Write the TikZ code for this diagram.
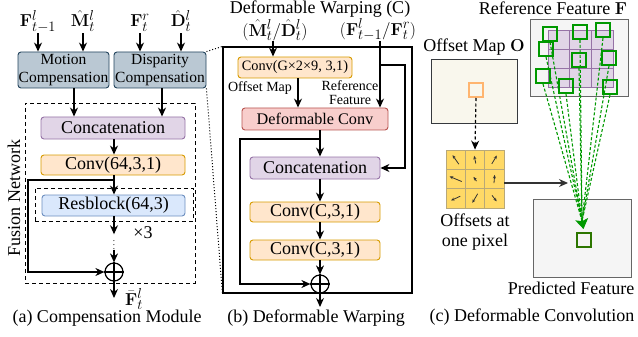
\documentclass[tikz,border=0pt]{standalone}
\usepackage[no-math]{fontspec}
\setmainfont{Liberation Serif}
\usetikzlibrary{arrows.meta,calc}

\definecolor{cbfill}{HTML}{BAC8D3}\definecolor{cbline}{HTML}{23445D}
\definecolor{lavfill}{HTML}{E1D5E7}\definecolor{lavline}{HTML}{9673A6}
\definecolor{orfill}{HTML}{FFE6CC}\definecolor{orline}{HTML}{D79B00}
\definecolor{blfill}{HTML}{DAE8FC}\definecolor{blline}{HTML}{6C8EBF}
\definecolor{rdfill}{HTML}{F8CECC}\definecolor{rdline}{HTML}{B85450}
\definecolor{gyfill}{HTML}{F5F5F5}\definecolor{gyline}{HTML}{666666}
\definecolor{crfill}{HTML}{F9F7ED}\definecolor{crline}{HTML}{36393D}
\definecolor{ylfill}{HTML}{FFD966}\definecolor{ylline}{HTML}{B8A878}
\definecolor{gsq}{HTML}{009900}\definecolor{gdk}{HTML}{2D7600}
\definecolor{osq}{HTML}{FFB570}

\begin{document}
\begin{tikzpicture}[x=1pt,y=-1pt,
  every node/.style={inner sep=0pt},
  fs18/.style={font=\fontsize{18}{20}\selectfont},
  fm19/.style={font=\fontsize{19}{21}\selectfont},
  fs14/.style={font=\fontsize{14}{14}\selectfont},
  box/.style={draw, rounded corners=3pt, line width=0.9pt, align=center},
  compbox/.style={box, fill=cbfill, draw=cbline, minimum width=91, minimum height=36,
    font=\fontsize{15.5}{17.5}\selectfont},
  catbox/.style={box, fill=lavfill, draw=lavline, fs18},
  convbox/.style={box, fill=orfill, draw=orline, fs18},
  resbox/.style={box, fill=blfill, draw=blline, fs18},
  defbox/.style={box, fill=rdfill, draw=rdline, font=\fontsize{16.2}{18}\selectfont},
  frame/.style={draw, dashed, dash pattern=on 4pt off 3pt, line width=0.9pt},
  arr/.style={-{Stealth[length=9pt,width=8pt]}, line width=1.2pt},
  line/.style={line width=1.2pt},
  plus/.style={circle, draw, line width=1.2pt, minimum size=18},
  gsqr/.style={draw=gsq, line width=1.8pt, minimum size=14},
  gdash/.style={draw=gsq, line width=1.1pt, dash pattern=on 3pt off 2pt},
  smallarr/.style={-{Stealth[length=3.5pt,width=3pt]}, line width=0.8pt, draw=black!80},
]
\useasboundingbox (0,0) rectangle (638,337);

% ---------------- (a) compensation module ----------------
\node[fm19, anchor=base] (lF)  at (38,27)  {$\mathbf{F}^{l}_{t-1}$};
\node[fm19, anchor=base] (lM)  at (83,27)  {$\hat{\mathbf{M}}^{l}_{t}$};
\node[fm19, anchor=base] (lFr) at (140,27) {$\mathbf{F}^{r}_{t}$};
\node[fm19, anchor=base] (lD)  at (181,27) {$\hat{\mathbf{D}}^{l}_{t}$};

\node[compbox] (mc) at (63.5,70) {Motion\\Compensation};
\node[compbox, minimum width=92] (dc) at (160,70) {Disparity\\Compensation};

\foreach \l/\b in {lF/mc, lM/mc, lFr/dc, lD/dc}
  \draw[arr] (\l.base |- lF.south) -- (\l.base |- \b.north);

\node[frame, minimum width=170, minimum height=180] (fusion) at (110,193) {};
\node[fs18, rotate=90] (fusionlbl) at (14,198) {Fusion Network};

\node[catbox, minimum width=144, minimum height=22] (catA) at (113,128) {Concatenation};
\draw[arr] ($(mc.south)+(10.5,0)$) -- ($(mc.south |- catA.north)+(10.5,0)$);
\draw[arr] ($(dc.south)+(2,0)$) -- ($(dc.south |- catA.north)+(2,0)$);

\node[convbox, minimum width=144, minimum height=20] (convA) at (113,165) {Conv(64,3,1)};
\draw[arr] (catA.south -| 114,0) -- (convA.north -| 114,0);

\node[frame, minimum width=158, minimum height=33] (resframe) at (114,204.5) {};
\node[resbox, minimum width=143, minimum height=21] (res) at (113.5,205.5) {Resblock(64,3)};
\draw[arr] (convA.south -| 114,0) -- (res.north -| 114,0);

\node[font=\fontsize{9}{9}\selectfont] (dotsA) at (114,242) {$\vdots$};
\node[fs18] (times) at (143,233) {×3};
\draw[arr] (res.south -| 114,0) -- (dotsA.north);

\node[plus] (plusA) at (114,272) {};
\draw[line] (plusA.north) -- (plusA.south) (plusA.west) -- (plusA.east);
\draw[arr] (dotsA.south) -- (plusA.north);

\coordinate (asplit) at (114,180);
\draw[arr] (asplit) -- (28,180) |- (plusA.west);

\coordinate (outA) at (114,298);
\draw[arr] (plusA.south) -- (outA);
\node[fm19, anchor=base west] (lFbar) at (125,305) {$\bar{\mathbf{F}}^{l}_{t}$};

\node[fs18] (capA) at (107,318) {(a) Compensation Module};

% ---------------- (b) deformable warping ----------------
\node[fs18] (titleB) at (320,9) {Deformable Warping (C)};
\node[fm19] (lMD) at (275,30) {$(\hat{\mathbf{M}}^{l}_{t}/\hat{\mathbf{D}}^{l}_{t})$};
\node[fm19] (lFF) at (378,30) {$(\mathbf{F}^{l}_{t-1}/\mathbf{F}^{r}_{t})$};

\node[draw, line width=1.2pt, minimum width=189, minimum height=246] (dwbox) at (317.5,170) {};

\draw[dotted, line width=1pt] (dc.north east) -- (dwbox.north west);
\draw[dotted, line width=1pt] (dc.south east) -- (dwbox.south west);

\node[convbox, font=\fontsize{14.3}{16}\selectfont, minimum width=114, minimum height=21] (convG) at (295,67.5) {Conv(G×2×9, 3,1)};
\draw[arr] ($(lMD.south)+(-2,0)$) -- ($(lMD.south |- convG.north)+(-2,0)$);

\node[defbox, minimum width=146, minimum height=22] (dconv) at (315,119) {Deformable Conv};
\draw[arr] (convG.south -| 298,0) -- (dconv.north -| 298,0);
\node[fs14] (offlbl) at (260,88) {Offset Map};
\node[fs14, align=center] (reflbl) at (350,93) {Reference\\Feature};

\node[catbox, minimum width=130, minimum height=22] (catB) at (315,168) {Concatenation};
\node[convbox, minimum width=130, minimum height=20] (cc1) at (315,212) {Conv(C,3,1)};
\node[convbox, minimum width=130, minimum height=20] (cc2) at (315,250) {Conv(C,3,1)};
\node[plus] (plusB) at (320,284) {};
\draw[line] (plusB.north) -- (plusB.south) (plusB.west) -- (plusB.east);

\draw[arr] ($(lFF.south)+(2,0)$) -- ($(lFF.south |- dconv.north)+(2,0)$);
\coordinate (ffsplit) at (380,65);
\draw[arr] (ffsplit) -- (405,65) |- (catB.east);

\draw[arr] (dconv.south -| plusB) -- (catB.north -| plusB);
\coordinate (dsplit) at (320,139);
\draw[arr] (dsplit) -- (240,139) |- (plusB.west);
\draw[arr] (catB.south -| plusB) -- (cc1.north -| plusB);
\draw[arr] (cc1.south -| plusB) -- (cc2.north -| plusB);
\draw[arr] (cc2.south -| plusB) -- (plusB.north);
\coordinate (outB) at (320,307);
\draw[arr] (plusB.south) -- (outB);

\node[fs18] (capB) at (316,318) {(b) Deformable Warping};

% ---------------- (c) deformable convolution ----------------
\node[fs18] (refttl) at (553,8) {Reference Feature $\mathbf{F}$};
\node[draw=gyline, fill=gyfill, line width=1pt, minimum width=98, minimum height=77] (refbox) at (579,58.5) {};
\filldraw[fill=lavfill, draw=lavline, line width=1pt] (548,31) rectangle (613,88);
\foreach \xx in {569.67,591.33} \draw[lavline, line width=1pt] (\xx,31) -- (\xx,88);
\foreach \yy in {50,69} \draw[lavline, line width=1pt] (548,\yy) -- (613,\yy);

\node[draw=gyline, fill=gyfill, line width=1pt, minimum width=98, minimum height=78] (predbox) at (582,238) {};
\node[draw=gdk, fill=gyfill, line width=2pt, minimum size=14] (predsq) at (584,240) {};

\coordinate (focus) at (582,221);
\foreach \n/\px/\py in {g1/550/34, g2/580/32, g3/603/30, g4/546/49, g5/579/60,
                        g6/609/58, g7/543/76, g8/566/86, g9/610/87}
  \node[gsqr] (\n) at (\px,\py) {};
\foreach \n in {g1,g2,g3,g4,g5,g6,g7,g8,g9}
  \draw[gdash] (\n.south) -- (focus);
\draw[draw=gsq, fill=gsq, line width=1.1pt, -{Stealth[length=10pt,width=13pt,inset=2pt]}, shorten >=3pt] (focus) -- (predsq.north);

\node[fs18] (pflbl) at (571,288) {Predicted Feature};

\node[fs18] (omlbl) at (474,47) {Offset Map $\mathbf{O}$};
\node[draw=crline, fill=crfill, line width=1pt, minimum width=86, minimum height=64] (ombox) at (474,92) {};
\node[draw=osq, line width=2pt, minimum size=14] (osqr) at (476,90) {};

\node[draw=ylline, fill=ylfill, line width=0.8pt, minimum size=58] (ygrid) at (475,179) {};
\foreach \i in {1,2} {
  \draw[ylline, line width=0.8pt] (446+19.333*\i,150) -- (446+19.333*\i,208);
  \draw[ylline, line width=0.8pt] (446,150+19.333*\i) -- (504,150+19.333*\i);
}
\foreach \r/\c/\dx/\dy in {1/1/-6.3/-9, 1/2/-1.7/-7.7, 1/3/5/-8.3,
                           2/1/-12/-5, 2/2/-3/-4.3, 2/3/0.7/-8.3,
                           3/1/-9.3/4.3, 3/2/-5.3/9, 3/3/4.7/6}
  \draw[smallarr] ({446+19.333*(\c-0.5)-\dx/2},{150+19.333*(\r-0.5)-\dy/2}) -- ++(\dx,\dy);

\draw[arr, dash pattern=on 3pt off 2.5pt] (osqr.south) -- (ygrid.north);
\coordinate (aim) at (568,183);
\draw[arr, draw=black!80] (ygrid.east |- aim) -- (aim);

\node[fs18, align=center] (offpx) at (475,232) {Offsets at\\one pixel};

\node[fs18] (capC) at (532,317) {(c) Deformable Convolution};
\end{tikzpicture}
\end{document}
